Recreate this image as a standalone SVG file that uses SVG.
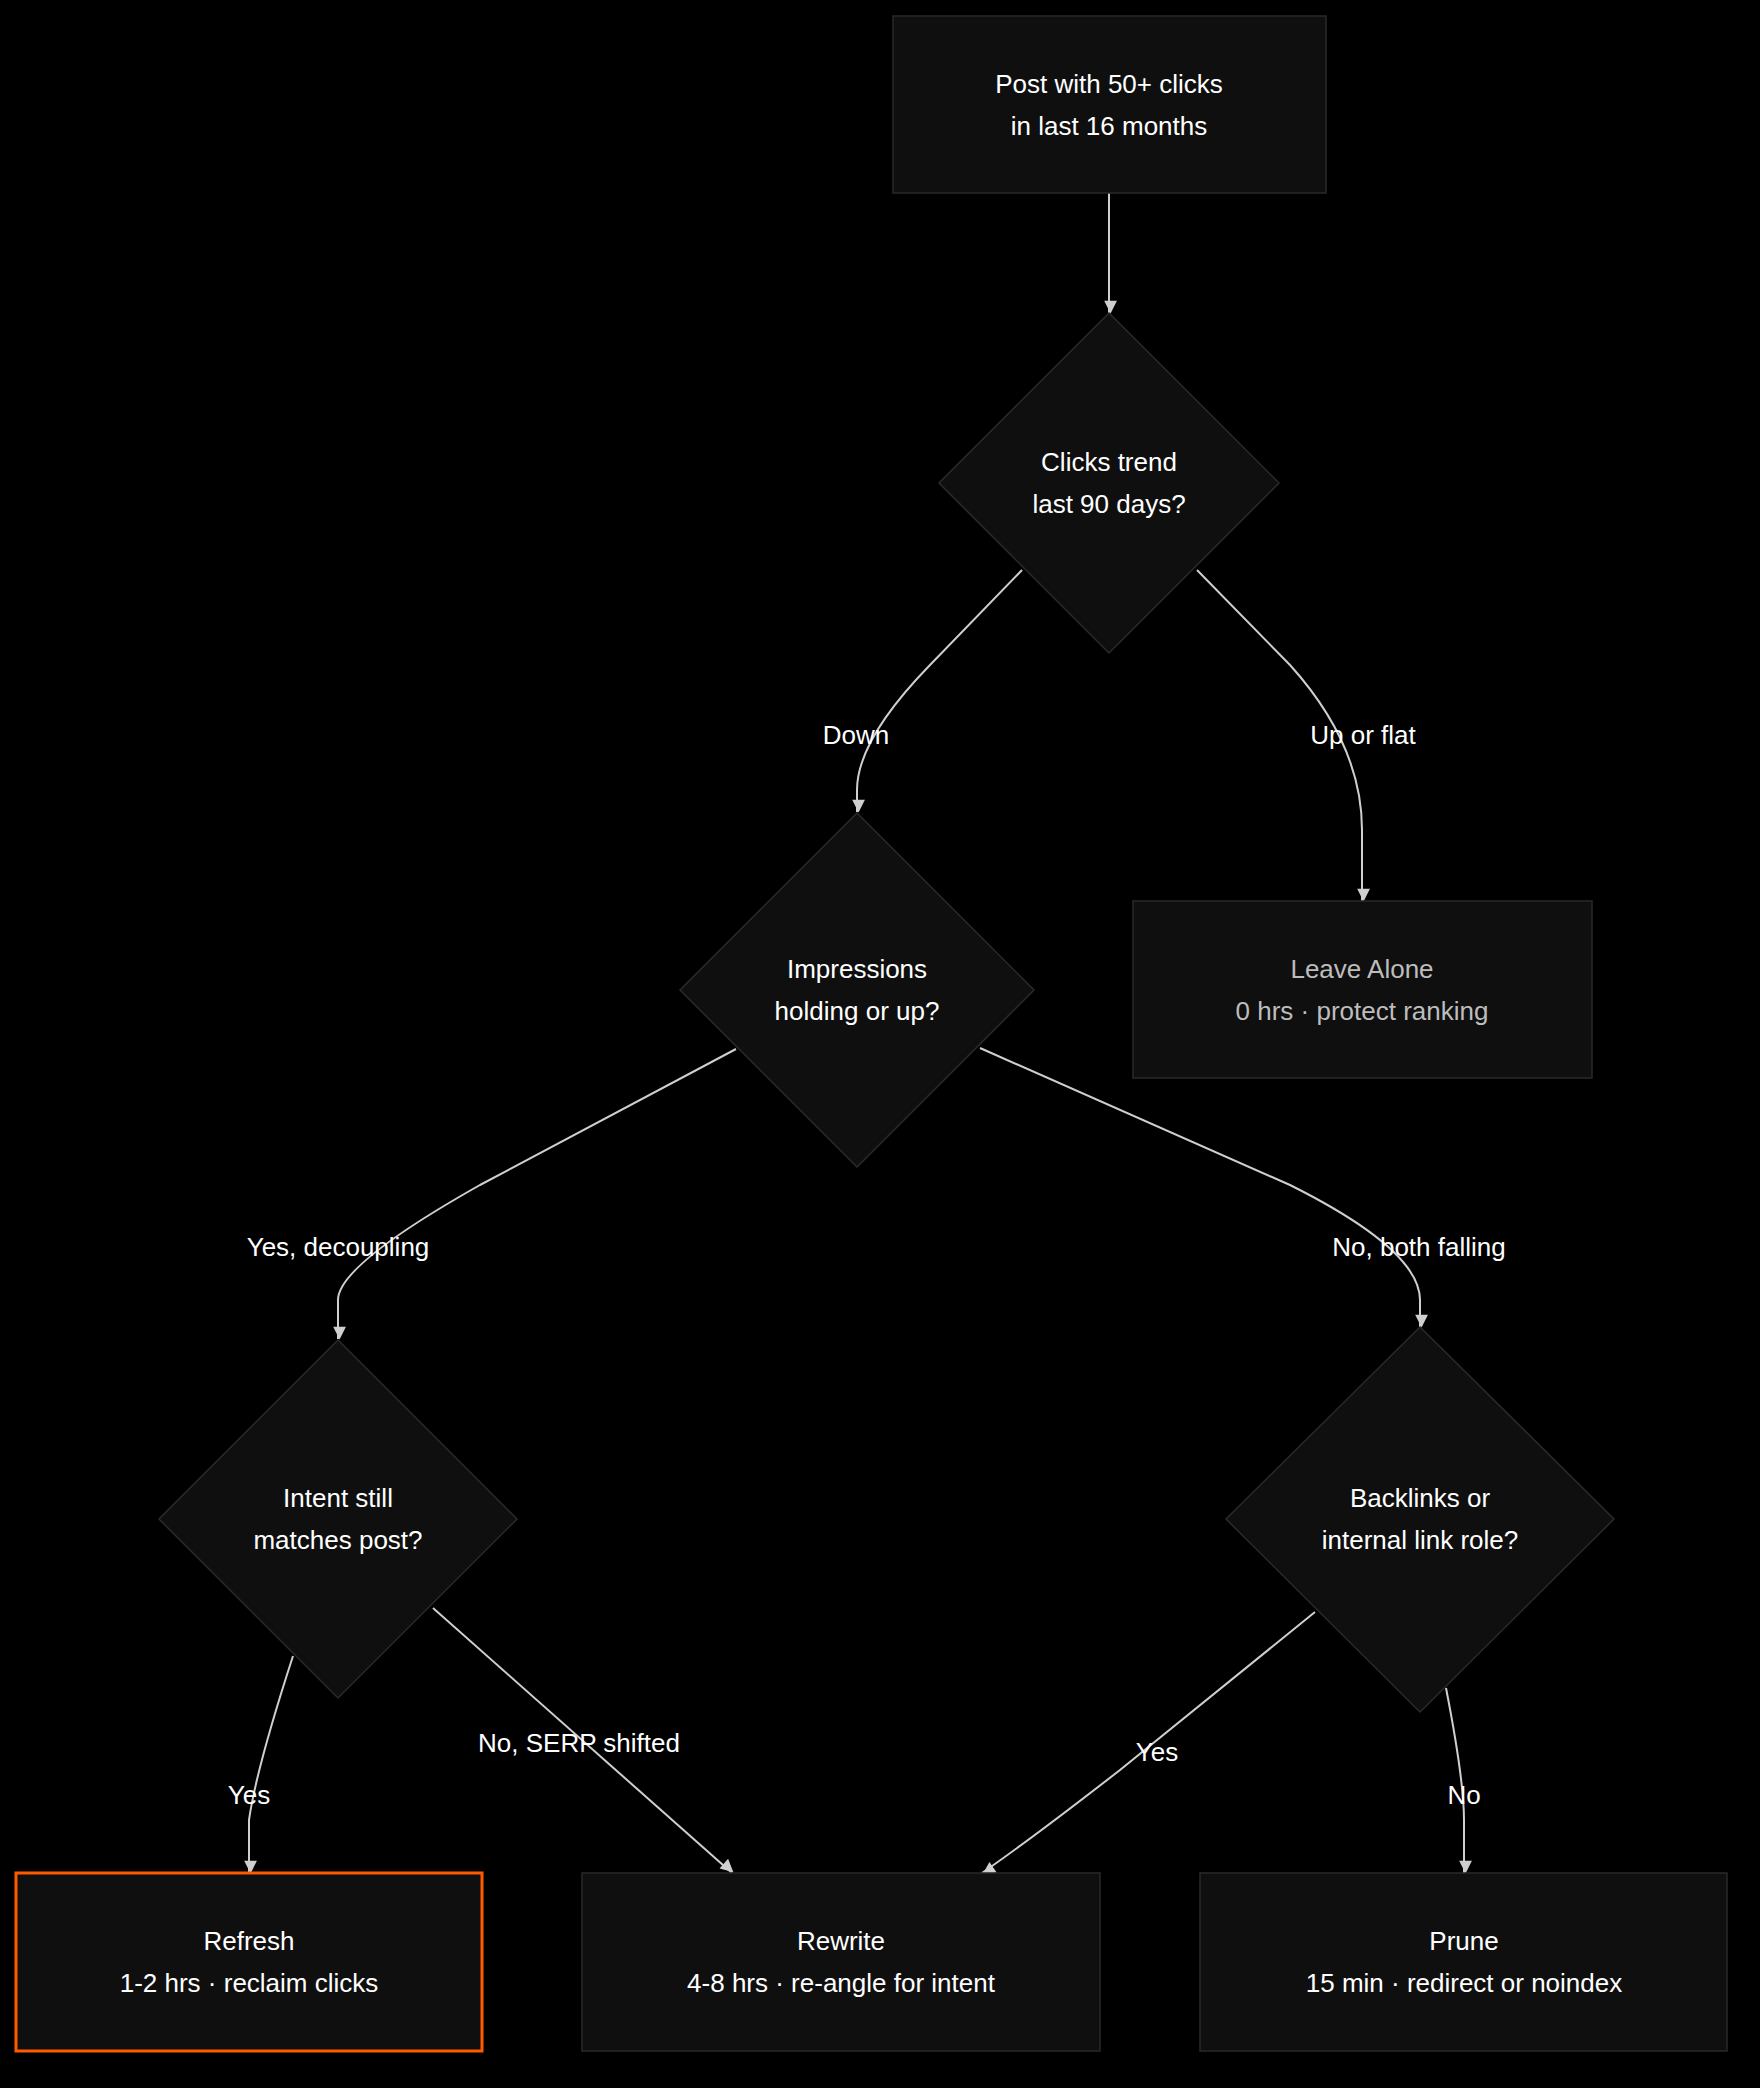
<svg xmlns="http://www.w3.org/2000/svg" width="1760" height="2088" viewBox="0 0 1760 2088">
<style>
.n{fill:#0f0f0f;stroke:#2a2a2a;stroke-width:1.5}
.t{font-family:"Liberation Sans",Arial,sans-serif;font-size:26px;fill:#fff;text-anchor:middle;dominant-baseline:central}
.g{fill:#bdbdbd}
.e{fill:none;stroke:#cfcfcf;stroke-width:2}
</style>
<defs>
<marker id="a" viewBox="0 0 10 10" refX="9" refY="5" markerWidth="8" markerHeight="8" orient="auto-start-reverse" markerUnits="userSpaceOnUse" style="overflow:visible">
<path d="M0,0 L10,5 L0,10 z" fill="#cfcfcf" transform="scale(1.6) translate(-4,-3.1)"/>
</marker>
</defs>
<rect width="1760" height="2088" fill="#000"/>
<g id="edges">
<path class="e" marker-end="url(#a)" d="M1109,193 L1109,313"/>
<path class="e" marker-end="url(#a)" d="M1022,570 L930,665 Q857,740 857,790 L857,812"/>
<path class="e" marker-end="url(#a)" d="M1197,570 L1290,665 Q1362,745 1362,830 L1362,901"/>
<path class="e" marker-end="url(#a)" d="M736,1049 L480,1185 Q338,1265 338,1300 L338,1339"/>
<path class="e" marker-end="url(#a)" d="M980,1048 L1290,1185 Q1420,1250 1420,1300 L1420,1327"/>
<path class="e" marker-end="url(#a)" d="M293,1656 Q256,1770 249,1820 L249,1873"/>
<path class="e" marker-end="url(#a)" d="M433,1608 L732,1873"/>
<path class="e" marker-end="url(#a)" d="M1315,1612 L1120,1770 Q1030,1840 982,1873"/>
<path class="e" marker-end="url(#a)" d="M1446,1688 Q1464,1780 1464,1820 L1464,1873"/>
<text class="t" x="856" y="735">Down</text>
<text class="t" x="1363" y="735">Up or flat</text>
<text class="t" x="338" y="1247">Yes, decoupling</text>
<text class="t" x="1419" y="1247">No, both falling</text>
<text class="t" x="249" y="1795">Yes</text>
<text class="t" x="579" y="1743">No, SERP shifted</text>
<text class="t" x="1157" y="1752">Yes</text>
<text class="t" x="1464" y="1795">No</text>
</g>
<g id="start"><rect class="n" x="893" y="16" width="433" height="177"/><text class="t" x="1109" y="84">Post with 50+ clicks</text><text class="t" x="1109" y="126">in last 16 months</text></g>
<g id="trend"><polygon class="n" points="1109,313 1279,483 1109,653 939,483"/><text class="t" x="1109" y="462">Clicks trend</text><text class="t" x="1109" y="504">last 90 days?</text></g>
<g id="impr"><polygon class="n" points="857,813 1034,990 857,1167 680,990"/><text class="t" x="857" y="969">Impressions</text><text class="t" x="857" y="1011">holding or up?</text></g>
<g id="leave"><rect class="n" x="1133" y="901" width="459" height="177"/><text class="t g" x="1362" y="969">Leave Alone</text><text class="t g" x="1362" y="1011">0 hrs · protect ranking</text></g>
<g id="intent"><polygon class="n" points="338,1340 517,1519 338,1698 159,1519"/><text class="t" x="338" y="1498">Intent still</text><text class="t" x="338" y="1540">matches post?</text></g>
<g id="back"><polygon class="n" points="1420,1327 1614,1519 1420,1712 1226,1519"/><text class="t" x="1420" y="1498">Backlinks or</text><text class="t" x="1420" y="1540">internal link role?</text></g>
<g id="refresh"><rect x="16" y="1873" width="466" height="178" fill="#0f0f0f" stroke="#ff5a00" stroke-width="3"/><text class="t" x="249" y="1941">Refresh</text><text class="t" x="249" y="1983">1-2 hrs · reclaim clicks</text></g>
<g id="rewrite"><rect class="n" x="582" y="1873" width="518" height="178"/><text class="t" x="841" y="1941">Rewrite</text><text class="t" x="841" y="1983">4-8 hrs · re-angle for intent</text></g>
<g id="prune"><rect class="n" x="1200" y="1873" width="527" height="178"/><text class="t" x="1464" y="1941">Prune</text><text class="t" x="1464" y="1983">15 min · redirect or noindex</text></g>
</svg>
